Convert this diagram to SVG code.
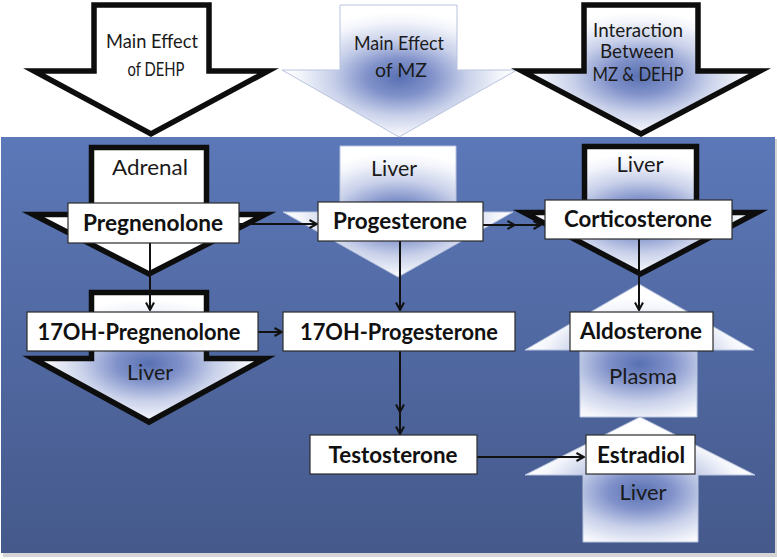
<svg xmlns="http://www.w3.org/2000/svg" width="777" height="559" viewBox="0 0 777 559">
<defs>
<linearGradient id="bg" x1="0" y1="0" x2="0" y2="1">
<stop offset="0" stop-color="#5c78b8"/>
<stop offset="1" stop-color="#45598b"/>
</linearGradient>
<radialGradient id="glow" cx="0.5" cy="0.55" r="0.5">
<stop offset="0" stop-color="#5870b2"/>
<stop offset="0.28" stop-color="#8192ca"/>
<stop offset="0.58" stop-color="#c9d1ea"/>
<stop offset="0.85" stop-color="#f3f5fb"/>
<stop offset="1" stop-color="#ffffff"/>
</radialGradient>
<radialGradient id="glowUp" cx="0.5" cy="0.6" r="0.5">
<stop offset="0" stop-color="#5870b2"/>
<stop offset="0.28" stop-color="#8192ca"/>
<stop offset="0.58" stop-color="#c9d1ea"/>
<stop offset="0.85" stop-color="#f3f5fb"/>
<stop offset="1" stop-color="#ffffff"/>
</radialGradient>
<marker id="ah" viewBox="0 0 10 10" refX="9" refY="5" markerWidth="10" markerHeight="10" markerUnits="userSpaceOnUse" orient="auto">
<path d="M1.5,1 L9,5 L1.5,9" fill="none" stroke="#111" stroke-width="2"/>
</marker>
<style>
.blk{stroke:#0d0d0d;stroke-width:5.5;stroke-linejoin:miter;stroke-miterlimit:12}
.lite{stroke:#b7c3de;stroke-width:1}
.box{fill:#ffffff;stroke:#2b2b2b;stroke-width:1.2}
text{font-family:Lato,"Liberation Sans",sans-serif;text-anchor:middle}
.lbl{font-weight:bold;font-size:22px;fill:#111}
.reg{font-size:22px;fill:#1a1a1a}
.top{font-size:19px;fill:#1a1a1a}
.con{fill:none;stroke:#111;stroke-width:2}
</style>
</defs>
<rect x="3" y="139" width="774" height="418" fill="#d4d4d4"/>
<rect x="1" y="137" width="774" height="416" fill="url(#bg)"/>

<g id="arrow-dehp">
<path class="blk" d="M94,5 H209 V71 H268 L151,134 L34,71 H94 Z" fill="#ffffff"/>
<text class="top" x="152" y="48" textLength="92" lengthAdjust="spacingAndGlyphs">Main Effect</text>
<text class="top" x="156" y="76" textLength="57" lengthAdjust="spacingAndGlyphs">of DEHP</text>
</g>
<g id="arrow-mz">
<path class="lite" d="M340,5 H457 V70 H517 L399,137 L282,70 H340 Z" fill="url(#glow)"/>
<text class="top" x="399" y="50" textLength="90" lengthAdjust="spacingAndGlyphs">Main Effect</text>
<text class="top" x="401" y="77" textLength="52" lengthAdjust="spacingAndGlyphs">of MZ</text>
</g>
<g id="arrow-interaction">
<path class="blk" d="M584,5 H698 V71 H760 L641,134 L522,71 H584 Z" fill="url(#glow)"/>
<text class="top" x="638" y="37" textLength="90" lengthAdjust="spacingAndGlyphs">Interaction</text>
<text class="top" x="637" y="58" textLength="74" lengthAdjust="spacingAndGlyphs">Between</text>
<text class="top" x="638" y="81" textLength="91" lengthAdjust="spacingAndGlyphs">MZ &amp; DEHP</text>
</g>

<g id="arrow-adrenal">
<path class="blk" d="M91.5,147.5 H206.5 V214.5 H265 L149,274 L33,214.5 H91.5 Z" fill="#ffffff"/>
<text class="reg" x="150" y="175" textLength="76" lengthAdjust="spacingAndGlyphs">Adrenal</text>
</g>
<g id="arrow-liver-left">
<path class="blk" d="M91.5,292.5 H206.5 V358.5 H265 L149,422 L33,358.5 H91.5 Z" fill="url(#glow)"/>
<text class="reg" x="150" y="380" textLength="46" lengthAdjust="spacingAndGlyphs">Liver</text>
</g>
<g id="arrow-liver-mid">
<path class="lite" d="M340,146 H456 V212 H513 L398,277 L283,212 H340 Z" fill="url(#glow)"/>
<text class="reg" x="394" y="176" textLength="46" lengthAdjust="spacingAndGlyphs">Liver</text>
</g>
<g id="arrow-liver-right">
<path class="blk" d="M584.5,146.5 H696.5 V212.5 H757 L640.5,274 L524,212.5 H584.5 Z" fill="url(#glow)"/>
<text class="reg" x="640" y="172" textLength="47" lengthAdjust="spacingAndGlyphs">Liver</text>
</g>
<g id="arrow-plasma">
<path class="lite" d="M639,284 L754,350 H697 V417 H580 V350 H525 Z" fill="url(#glowUp)"/>
<text class="reg" x="643" y="384" textLength="68" lengthAdjust="spacingAndGlyphs">Plasma</text>
</g>
<g id="arrow-liver-bottom">
<path class="lite" d="M640,417 L755,475 H698 V542 H583 V475 H525 Z" fill="url(#glowUp)"/>
<text class="reg" x="643" y="500" textLength="47" lengthAdjust="spacingAndGlyphs">Liver</text>
</g>

<g id="connectors">
<path class="con" d="M150,243 V310" marker-end="url(#ah)"/>
<path class="con" d="M239,224 H317" marker-end="url(#ah)"/>
<path class="con" d="M483,225 H515 H541" marker-mid="url(#ah)" marker-end="url(#ah)"/>
<path class="con" d="M400,241 V310" marker-end="url(#ah)"/>
<path class="con" d="M258,332 H282" marker-end="url(#ah)"/>
<path class="con" d="M400,351 V412 V434" marker-mid="url(#ah)" marker-end="url(#ah)"/>
<path class="con" d="M477,457 H584" marker-end="url(#ah)"/>
<path class="con" d="M639,239 V310" marker-end="url(#ah)"/>
</g>

<g id="pregnenolone">
<rect class="box" x="68" y="203" width="171" height="40"/>
<text class="lbl" x="153" y="231" textLength="140" lengthAdjust="spacingAndGlyphs">Pregnenolone</text>
</g>
<g id="progesterone">
<rect class="box" x="318" y="202" width="165" height="39"/>
<text class="lbl" x="400" y="229" textLength="134" lengthAdjust="spacingAndGlyphs">Progesterone</text>
</g>
<g id="corticosterone">
<rect class="box" x="545" y="200" width="187" height="39"/>
<text class="lbl" x="638" y="227" textLength="148" lengthAdjust="spacingAndGlyphs">Corticosterone</text>
</g>
<g id="oh-pregnenolone">
<rect class="box" x="27" y="312" width="231" height="39"/>
<text class="lbl" x="139" y="340" textLength="203" lengthAdjust="spacingAndGlyphs">17OH-Pregnenolone</text>
</g>
<g id="oh-progesterone">
<rect class="box" x="283" y="312" width="232" height="39"/>
<text class="lbl" x="399" y="340" textLength="198" lengthAdjust="spacingAndGlyphs">17OH-Progesterone</text>
</g>
<g id="aldosterone">
<rect class="box" x="570" y="312" width="143" height="39"/>
<text class="lbl" x="641" y="339" textLength="122" lengthAdjust="spacingAndGlyphs">Aldosterone</text>
</g>
<g id="testosterone">
<rect class="box" x="310" y="435" width="167" height="39"/>
<text class="lbl" x="393" y="463" textLength="129" lengthAdjust="spacingAndGlyphs">Testosterone</text>
</g>
<g id="estradiol">
<rect class="box" x="586" y="435" width="109" height="39"/>
<text class="lbl" x="641" y="463" textLength="88" lengthAdjust="spacingAndGlyphs">Estradiol</text>
</g>
</svg>
